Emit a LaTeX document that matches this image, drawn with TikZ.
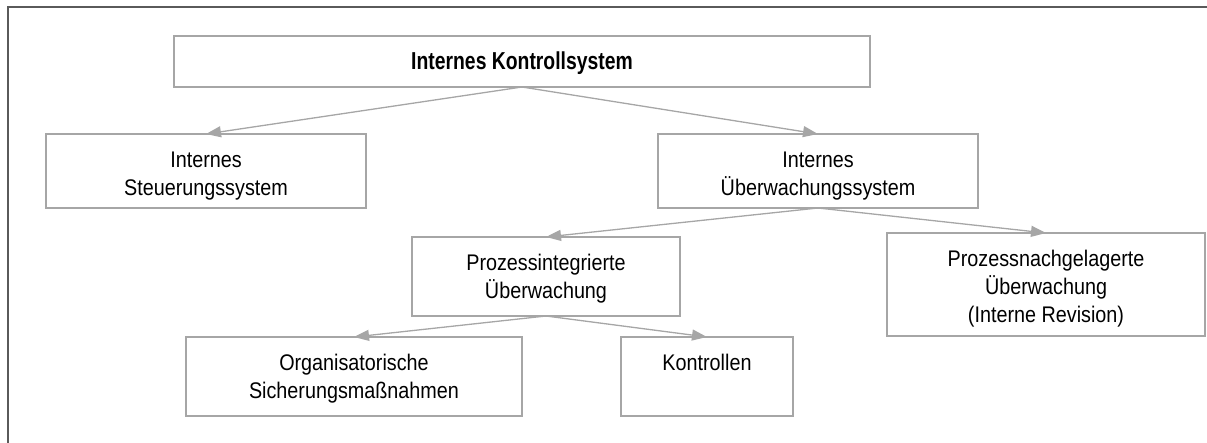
\documentclass[tikz,border=0pt]{standalone}
\usepackage{fontspec}
\setmainfont{Liberation Sans}[FakeStretch=0.875]
\newfontfamily\titlefont{Liberation Sans}[FakeStretch=0.79]
\usetikzlibrary{arrows.meta,calc}
\definecolor{boxgray}{RGB}{166,166,166}
\definecolor{framegray}{RGB}{90,90,90}
\begin{document}
\begin{tikzpicture}[x=1pt,y=-1pt,
  box/.style={draw=boxgray, line width=1.5pt, inner sep=0pt, outer sep=0pt, anchor=north west, rectangle},
  txt/.style={font=\fontsize{22.6}{28}\selectfont, align=center, inner sep=0pt, anchor=north, yshift=-17.3pt},
  conn/.style={draw=boxgray, line width=1.3pt, -{Triangle[length=15pt,width=11pt]}}
]
\useasboundingbox (0,0) rectangle (1207,443);
\draw[framegray, line width=1.5pt] (8,443) -- (8,7) -- (1207,7);

\node[box, minimum width=696pt, minimum height=51pt] (top) at (174,36) {};
\node[box, minimum width=320pt, minimum height=74pt] (steu) at (46,134) {};
\node[box, minimum width=320pt, minimum height=74pt] (ueb) at (658,134) {};
\node[box, minimum width=268pt, minimum height=79pt] (pint) at (412,237) {};
\node[box, minimum width=318pt, minimum height=103pt] (pnach) at (887,233) {};
\node[box, minimum width=336pt, minimum height=79pt] (org) at (186,337) {};
\node[box, minimum width=172pt, minimum height=79pt] (kon) at (621,337) {};

\node[font=\titlefont\fontsize{24.5}{28}\selectfont\bfseries, inner sep=0pt, anchor=base] (ttop) at (522,70) {Internes Kontrollsystem};
\node[txt] (tsteu) at (steu.north) {Internes\\Steuerungssystem};
\node[txt] (tueb) at (ueb.north) {Internes\\Überwachungssystem};
\node[txt] (tpint) at (pint.north) {Prozessintegrierte\\Überwachung};
\node[txt] (tpnach) at (pnach.north) {Prozessnachgelagerte\\Überwachung\\(Interne Revision)};
\node[txt] (torg) at (org.north) {Organisatorische\\Sicherungsmaßnahmen};
\node[txt] (tkon) at (kon.north) {Kontrollen};

\draw[conn] (top.south) -- (steu.north);
\draw[conn] (top.south) -- (ueb.north);
\draw[conn] (ueb.south) -- (pint.north);
\draw[conn] (ueb.south) -- (pnach.north);
\draw[conn] (pint.south) -- (org.north);
\draw[conn] (pint.south) -- (kon.north);
\end{tikzpicture}
\end{document}
